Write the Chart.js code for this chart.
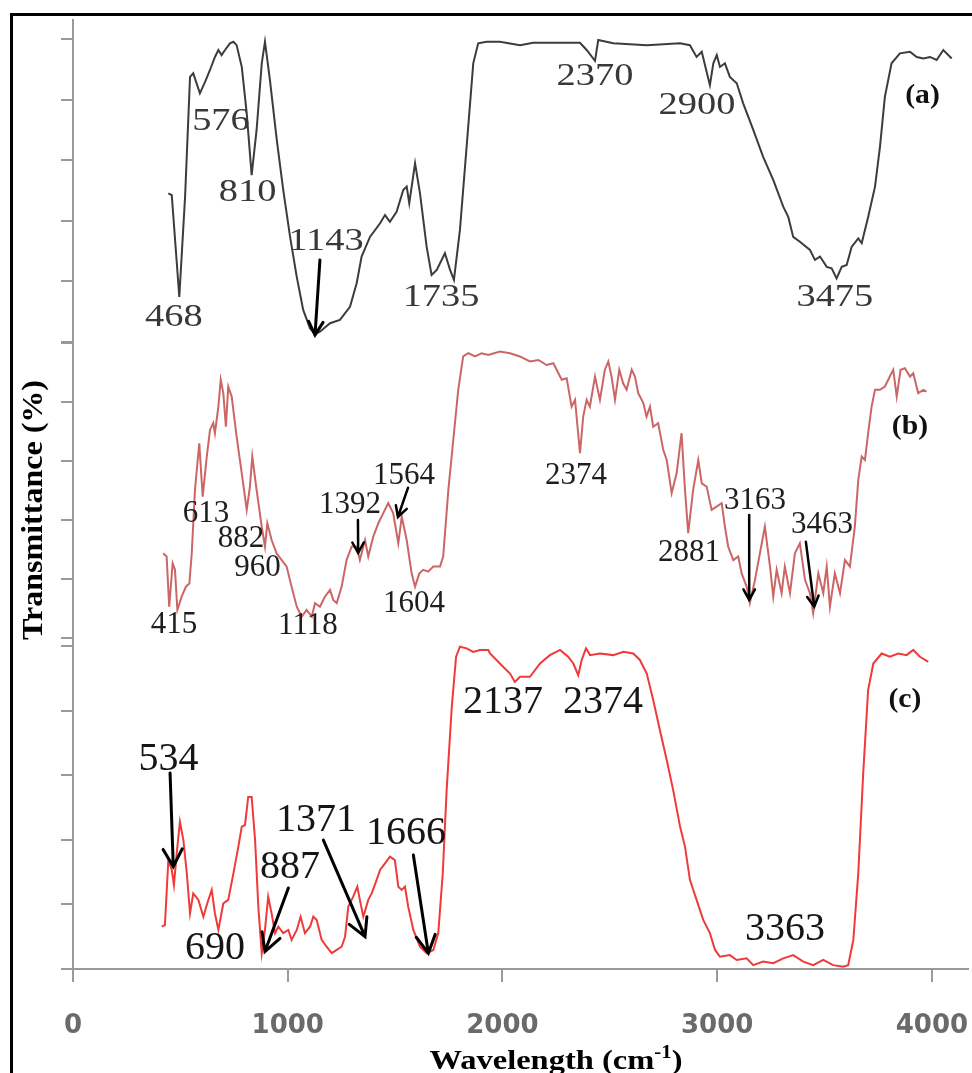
<!DOCTYPE html>
<html>
<head>
<meta charset="utf-8">
<title>FTIR spectra (a) (b) (c)</title>
<script src="https://cdn.jsdelivr.net/npm/chart.js@4.4.0/dist/chart.umd.min.js"></script>
<style>
  html, body { margin: 0; padding: 0; background: #fff; }
  #box { width: 972px; height: 1073px; }
</style>
</head>
<body>
<div id="box"><canvas id="irChart"></canvas></div>
<script>
// spectra: wavenumber (cm-1) and transmittance (%), one pair per panel
const waveA = [
  444, 460, 495, 522, 545, 560, 591, 615, 638, 661,
  677, 692, 708, 731, 747, 762, 786, 809, 832, 855,
  879, 894, 917, 949, 979, 1011, 1042, 1072, 1104, 1127,
  1150, 1197, 1243, 1290, 1321, 1344, 1383, 1430, 1453, 1476,
  1507, 1538, 1554, 1566, 1593, 1616, 1647, 1670, 1694, 1732,
  1756, 1774, 1802, 1833, 1864, 1887, 1926, 1988, 2082, 2143,
  2252, 2361, 2392, 2431, 2446, 2516, 2672, 2827, 2873, 2904,
  2928, 2966, 2982, 2998, 3013, 3036, 3059, 3091, 3121, 3168,
  3214, 3261, 3308, 3331, 3354, 3385, 3432, 3455, 3479, 3510,
  3533, 3556, 3580, 3603, 3626, 3657, 3673, 3703, 3735, 3758,
  3781, 3812, 3851, 3898, 3929, 3960, 3991, 4022, 4053, 4092
]
const transA = [
  49.1, 48.5, 14.9, 48, 87.5, 88.7, 82.1, 85.9, 89.8, 94.1,
  96.4, 94.7, 96.4, 98.6, 99.1, 98, 90.8, 75.5, 55.1, 70,
  92, 99.1, 86.5, 66.7, 50.2, 34.7, 21.5, 10.6, 4.5, 2.6,
  3.4, 6.2, 7.3, 11.6, 19.4, 28.2, 34.7, 39.2, 41.9, 39.7,
  43, 50.2, 51.3, 45.8, 59, 49.1, 31.4, 22.1, 23.8, 29.3,
  23.8, 20.5, 37, 64.4, 92, 98.6, 99.1, 99.1, 98, 98.8,
  98.8, 98.8, 96.4, 92.8, 99.7, 98.6, 98, 98.6, 98, 94.1,
  95.8, 84.8, 92, 94.7, 90.8, 92, 87.5, 85.4, 78.8, 70,
  61.1, 53.5, 44.6, 41.3, 34.7, 33.1, 30.4, 27.1, 28.2, 24.8,
  24.3, 21, 24.8, 25.4, 31.4, 34.2, 32.6, 41.3, 51.3, 64.4,
  81, 92, 95.3, 95.8, 94.1, 93.6, 94.1, 93.1, 96.4, 93.6
]

const waveB = [
  420, 436, 448, 464, 475, 486, 506, 526, 542, 553,
  568, 588, 604, 623, 638, 653, 661, 677, 688, 700,
  712, 723, 739, 762, 786, 809, 824, 835, 855, 879,
  894, 905, 925, 948, 972, 995, 1018, 1042, 1065, 1088,
  1112, 1127, 1150, 1173, 1197, 1212, 1228, 1251, 1274, 1298,
  1321, 1336, 1360, 1375, 1398, 1422, 1445, 1468, 1491, 1515,
  1531, 1554, 1577, 1593, 1613, 1631, 1654, 1678, 1709, 1724,
  1748, 1771, 1794, 1817, 1841, 1872, 1903, 1934, 1988, 2035,
  2081, 2128, 2167, 2206, 2237, 2276, 2299, 2322, 2338, 2361,
  2376, 2392, 2407, 2431, 2454, 2477, 2493, 2508, 2524, 2544,
  2562, 2578, 2602, 2617, 2632, 2656, 2671, 2687, 2702, 2725,
  2749, 2765, 2788, 2811, 2834, 2850, 2865, 2888, 2912, 2928,
  2951, 2974, 2997, 3021, 3036, 3051, 3075, 3098, 3114, 3137,
  3152, 3176, 3199, 3222, 3246, 3261, 3277, 3300, 3315, 3339,
  3362, 3385, 3409, 3432, 3447, 3471, 3494, 3510, 3525, 3548,
  3572, 3595, 3618, 3641, 3657, 3673, 3688, 3703, 3719, 3735,
  3758, 3781, 3804, 3820, 3836, 3854, 3874, 3898, 3913, 3936,
  3960, 3975
]
const transB = [
  28.7, 27.6, 10.6, 25.3, 23.1, 9.5, 14, 17.4, 18.5, 28.7,
  50.2, 66, 47.9, 61.5, 70.5, 72.8, 69.4, 78.4, 87.5, 83,
  71.6, 85.2, 81.8, 68.2, 55.8, 43.4, 51.3, 61.5, 50.2, 37.7,
  31, 38.9, 33.2, 28.7, 26.4, 24.2, 17.4, 10.6, 7.2, 9.5,
  7.2, 11.8, 10.6, 14, 16.3, 12.9, 11.8, 17.4, 26.4, 31,
  31, 26.4, 33.2, 27.6, 34.3, 38.9, 42.3, 45.7, 42.3, 32.1,
  41.1, 33.2, 21.9, 17.4, 21.9, 23.1, 22.5, 24.2, 24.2, 27.6,
  50.2, 67.1, 84.1, 95.4, 96.5, 95.4, 96.5, 95.9, 97.1, 96.5,
  95.4, 93.7, 94.2, 92.5, 93.1, 87.5, 88, 78.4, 80.7, 62.6,
  75, 80.7, 78.4, 88.6, 80.7, 90.9, 93.7, 88.6, 80.7, 90.9,
  86.3, 84.1, 90.9, 88.6, 83, 79.6, 75, 78.4, 71.6, 72.8,
  63.7, 60.3, 49.1, 55.8, 69.4, 50.2, 35.5, 50.2, 60.3, 52.4,
  51.3, 43.4, 44.5, 45.7, 37.7, 31, 26.4, 27.6, 21.9, 17.4,
  11.8, 19.7, 28.7, 37.7, 24.2, 14, 23.1, 15.2, 24.2, 15.2,
  28.7, 32.1, 19.7, 15.2, 8.4, 21.9, 15.2, 24.2, 10.6, 21.9,
  15.2, 26.4, 24.2, 37.7, 53.6, 61.5, 60.3, 69.4, 78.4, 84.1,
  84.1, 85.2, 88.6, 90.9, 81.8, 90.9, 91.4, 88.6, 89.7, 83,
  84.1, 83.5
]

const waveC = [
  413, 428, 444, 460, 470, 483, 498, 514, 530, 545,
  560, 584, 607, 625, 646, 661, 677, 700, 723, 747,
  770, 786, 801, 816, 832, 848, 863, 879, 894, 909,
  925, 941, 956, 979, 1003, 1018, 1042, 1060, 1080, 1104,
  1119, 1135, 1158, 1181, 1205, 1228, 1251, 1267, 1282, 1305,
  1324, 1336, 1352, 1375, 1391, 1414, 1430, 1453, 1476, 1499,
  1515, 1531, 1546, 1561, 1585, 1616, 1647, 1678, 1701, 1722,
  1740, 1764, 1784, 1802, 1833, 1864, 1895, 1934, 1942, 1988,
  2035, 2058, 2082, 2128, 2175, 2221, 2268, 2306, 2330, 2353,
  2369, 2389, 2408, 2454, 2516, 2563, 2609, 2640, 2672, 2702,
  2733, 2765, 2795, 2827, 2850, 2873, 2904, 2935, 2966, 2990,
  3013, 3059, 3091, 3137, 3168, 3214, 3261, 3308, 3354, 3401,
  3447, 3494, 3540, 3587, 3610, 3634, 3657, 3680, 3703, 3727,
  3766, 3804, 3843, 3882, 3913, 3944, 3983
]
const transC = [
  13.1, 13.6, 33.7, 30.7, 26, 35.8, 45.6, 39.9, 29.6, 17.2,
  23.4, 21.4, 16.2, 20.3, 24.5, 17.2, 12.1, 20.3, 21.4, 29.6,
  37.9, 44.1, 44.6, 53.3, 53.3, 39.9, 19.3, 4.9, 12.1, 22.4,
  17.2, 11.1, 13.1, 11.1, 12.1, 9, 12.1, 16.2, 11.1, 13.1,
  16.2, 15.2, 9, 6.9, 4.9, 5.9, 6.9, 10, 19.3, 22.4,
  25.5, 21.4, 16.2, 21.4, 23.4, 27.6, 30.7, 32.7, 34.8, 33.7,
  25.5, 24.5, 25.5, 19.3, 12.1, 6.9, 4.9, 5.9, 11.1, 29.6,
  55.4, 81.2, 96.7, 99.8, 99.3, 98.2, 98.8, 98.8, 97.7, 94.6,
  91.5, 88.9, 90.5, 90.5, 94.6, 97.2, 98.8, 96.7, 94.6, 91,
  95.7, 99.3, 97.2, 97.7, 97.2, 98.2, 97.7, 95.7, 91.5, 83.3,
  74, 64.7, 55.4, 44.1, 37.9, 27.6, 21.4, 15.2, 11.1, 5.9,
  3.8, 4.3, 2.8, 3.3, 1.2, 2.3, 1.8, 3.3, 4.3, 2.3,
  1.2, 2.8, 1.2, 0.7, 1.2, 9, 29.6, 60.6, 86.4, 94.6,
  97.7, 96.7, 97.7, 97.2, 98.8, 96.7, 95.1
]

const xTicks = [0, 1000, 2000, 3000, 4000]
const yTicks = [0, 20, 40, 60, 80, 100]

// peak labels [text, wavenumber, transmittance] and arrows [from x, from y, to x, to y]
const peaksA = [
  ['468', 470, 8.1], ['576', 689, 72.7], ['810', 813, 49.3], ['1143', 1178, 33.2],
  ['1735', 1714, 14.7], ['2370', 2431, 87.5], ['2900', 2906, 77.9], ['3475', 3548, 14.7]
]
const arrowsA = [[1150, 27.1, 1127, 2.3]]

const peaksB = [
  ['415', 470, 4.4], ['613', 619, 42], ['882', 782, 33.6], ['960', 859, 23.7],
  ['1118', 1094, 4.1], ['1392', 1290, 45.1], ['1564', 1541, 54.9], ['1604', 1588, 11.5],
  ['2374', 2342, 54.9], ['2881', 2869, 28.8], ['3163', 3176, 46.4], ['3463', 3488, 38.3]
]
const arrowsB = [
  [1327, 40, 1328, 28.8], [1560, 50.9, 1513, 41],
  [3149, 41.7, 3149, 12.9], [3413, 32.6, 3452, 10.6]
]

const peaksC = [
  ['534', 445, 65], ['690', 661, 6.2], ['887', 1011, 31.4], ['1371', 1132, 46.1],
  ['1666', 1551, 42.1], ['2137', 2002, 82.4], ['2374', 2468, 82.4], ['3363', 3316, 12.1]
]
const arrowsC = [
  [452, 60.7, 467, 31.7], [1003, 25.1, 894, 5.4],
  [1166, 39.9, 1360, 10], [1585, 35.3, 1655, 4.9]
]

const panels = [
  { axis: 'ya', tag: '(a)', tagAt: [3956, 81.2], peaks: peaksA, arrows: arrowsA, size: 32, sx: 1.2, color: '#383838', head: 15, lw: 3 },
  { axis: 'yb', tag: '(b)', tagAt: [3898, 71.5], peaks: peaksB, arrows: arrowsB, size: 31, sx: 1, color: '#1e1e1e', head: 12, lw: 2.5 },
  { axis: 'yc', tag: '(c)', tagAt: [3874, 83.3], peaks: peaksC, arrows: arrowsC, size: 40, sx: 1, color: '#161616', head: 20, lw: 3 }
]

const pts = (xs, ys) => xs.map((x, i) => ({ x: x, y: ys[i] }))

function stretchText(c, text, x, y, font, color, sx) {
  c.save()
  c.translate(x, y)
  c.scale(sx, 1)
  c.font = font
  c.fillStyle = color
  c.textAlign = 'center'
  c.textBaseline = 'middle'
  c.fillText(text, 0, 0)
  c.restore()
}

function arrow(c, x1, y1, x2, y2, h) {
  const a = Math.atan2(y2 - y1, x2 - x1)
  c.beginPath()
  c.moveTo(x1, y1)
  c.lineTo(x2, y2)
  c.moveTo(x2 - h * Math.cos(a - 0.5), y2 - h * Math.sin(a - 0.5))
  c.lineTo(x2, y2)
  c.lineTo(x2 - h * Math.cos(a + 0.5), y2 - h * Math.sin(a + 0.5))
  c.stroke()
}

const overlay = {
  id: 'overlay',
  beforeDraw(chart) {
    const c = chart.ctx
    c.save()
    c.fillStyle = '#fff'
    c.fillRect(0, 0, chart.width, chart.height)
    c.restore()
  },
  afterDatasetsDraw(chart) {
    const c = chart.ctx
    const xs = chart.scales.x
    for (let p of panels) {
      const ys = chart.scales[p.axis]
      c.save()
      c.beginPath()
      c.rect(0, ys.top, chart.width, ys.bottom - ys.top)
      c.clip()
      for (let [t, w, v] of p.peaks) {
        stretchText(c, t, xs.getPixelForValue(w), ys.getPixelForValue(v), p.size + 'px "Liberation Serif"', p.color, p.sx)
      }
      c.strokeStyle = '#000'
      c.lineWidth = p.lw
      c.lineCap = 'round'
      for (let a of p.arrows) {
        arrow(c, xs.getPixelForValue(a[0]), ys.getPixelForValue(a[1]), xs.getPixelForValue(a[2]), ys.getPixelForValue(a[3]), p.head)
      }
      stretchText(c, p.tag, xs.getPixelForValue(p.tagAt[0]), ys.getPixelForValue(p.tagAt[1]), 'bold 27px "Liberation Serif"', '#111', 1.1)
      c.restore()
    }
  },
  afterDraw(chart) {
    const c = chart.ctx
    c.save()
    // frame of the original figure (top and left edges only)
    c.fillStyle = '#000'
    c.fillRect(10, 13, chart.width, 3)
    c.fillRect(10, 13, 3, chart.height)

    // y title
    const yTitle = 'Transmittance (%)'
    c.translate(34, 510)
    c.rotate(-Math.PI / 2)
    c.font = 'bold 30px "Liberation Serif"'
    c.scale(260 / c.measureText(yTitle).width, 1)
    c.textAlign = 'center'
    c.textBaseline = 'middle'
    c.fillText(yTitle, 0, 0)
    c.restore()

    // x title with superscript
    c.save()
    const big = 'bold 28px "Liberation Serif"'
    const small = 'bold 18px "Liberation Serif"'
    c.font = big
    const w1 = c.measureText('Wavelength (cm').width
    const w3 = c.measureText(')').width
    c.font = small
    const w2 = c.measureText('-1').width
    const sx = 253 / (w1 + w2 + w3)
    c.translate(556 - 253 / 2, 1069)
    c.scale(sx, 1)
    c.fillStyle = '#000'
    c.textBaseline = 'alphabetic'
    c.font = big
    c.fillText('Wavelength (cm', 0, 0)
    c.font = small
    c.fillText('-1', w1, -11)
    c.font = big
    c.fillText(')', w1 + w2, 0)
    c.restore()
  }
}

const gridOpts = { drawOnChartArea: false, tickLength: 12, color: '#9a9a9a', lineWidth: 2 }
const borderOpts = { color: '#9a9a9a', width: 2 }

function yAxis(weight, max) {
  return {
    type: 'linear',
    position: 'left',
    stack: 'ir',
    stackWeight: weight,
    min: 0,
    max: max,
    afterBuildTicks: s => { s.ticks = yTicks.map(v => ({ value: v })) },
    ticks: { display: false },
    grid: gridOpts,
    border: borderOpts,
    afterFit: s => { s.width = 73 }
  }
}

const ctx = document.getElementById('irChart')

new Chart(ctx, {
  type: 'line',
  data: {
    datasets: [
      { data: pts(waveA, transA), yAxisID: 'ya', borderColor: '#3c3c3c', borderWidth: 2 },
      { data: pts(waveB, transB), yAxisID: 'yb', borderColor: '#cc6666', borderWidth: 2 },
      { data: pts(waveC, transC), yAxisID: 'yc', borderColor: '#f03a3a', borderWidth: 2 }
    ]
  },
  options: {
    responsive: true,
    maintainAspectRatio: false,
    animation: false,
    layout: { padding: { top: 20, right: 4, left: 0, bottom: 0 } },
    elements: { point: { radius: 0 }, line: { tension: 0 } },
    plugins: { legend: { display: false }, tooltip: { enabled: false } },
    scales: {
      x: {
        type: 'linear',
        position: 'bottom',
        min: 0,
        max: 4168,
        afterBuildTicks: s => { s.ticks = xTicks.map(v => ({ value: v })) },
        ticks: {
          maxRotation: 0,
          autoSkip: false,
          padding: 29,
          color: '#6a6a6a',
          font: { family: 'DejaVu Sans', size: 26, weight: 'bold' },
          callback: v => String(v)
        },
        grid: { drawOnChartArea: false, tickLength: 13, color: '#9a9a9a', lineWidth: 2 },
        border: borderOpts,
        afterFit: s => {
          s.height = 104
          s.paddingLeft = 0
          s.paddingRight = 0
        }
      },
      // stacked panels are placed bottom-up, so (c) comes first
      yc: yAxis(331, 102.5),
      yb: yAxis(296, 100.3),
      ya: yAxis(322, 106.3)
    }
  },
  plugins: [overlay]
})
</script>
</body>
</html>
